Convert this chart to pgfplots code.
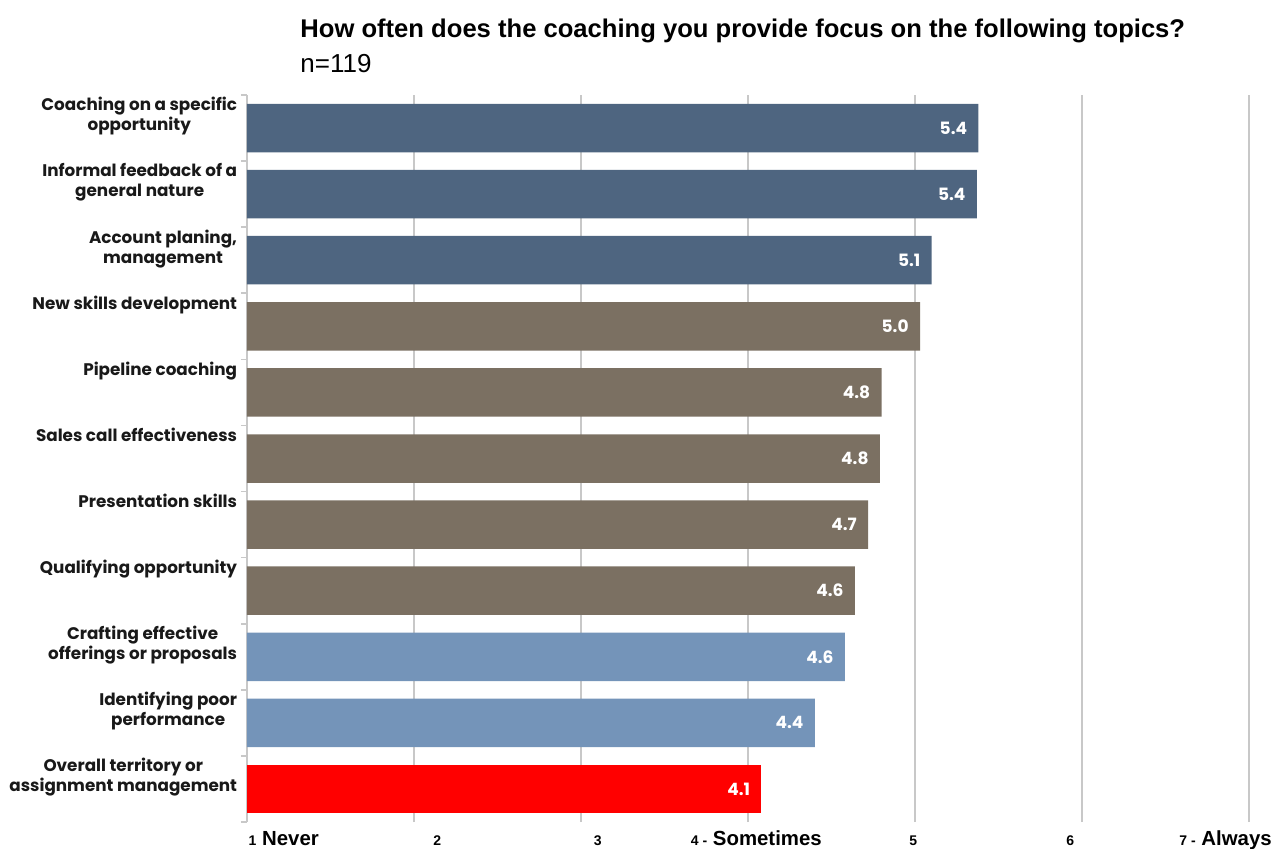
\documentclass[border=0pt]{standalone}
\usepackage{pgfplots}
\pgfplotsset{compat=1.18}
\usepackage{fontspec}
\setmainfont{Liberation Sans}
\newfontfamily\labfont{Poppins}
\definecolor{darkbar}{RGB}{78,101,128}
\definecolor{taupe}{RGB}{123,112,98}
\definecolor{lightbar}{RGB}{116,148,185}
\definecolor{redbar}{RGB}{255,0,0}
\definecolor{gridgray}{RGB}{200,200,200}
\begin{document}
\begin{tikzpicture}
\begin{axis}[
  xbar, bar shift=0pt, bar width=0.734,
  scale only axis, width=501pt, height=363.5pt,
  xmin=1, xmax=7, ymin=-0.5, ymax=10.5,
  /pgf/number format/assume math mode=true,
  axis lines*=left,
  x axis line style={draw=none},
  y axis line style={draw=gridgray, line width=1pt},
  xtick={2,...,7}, xticklabels={},
  xmajorgrids, grid style={gridgray, line width=1pt},
  major x tick style={draw=none},
  ytick={0,...,10},
  major y tick style={draw=none},
  minor ytick={-0.5,0.5,...,10.5},
  minor tick length=3pt,
  minor y tick style={draw=gridgray, line width=0.8pt},
  tick align=outside,
  yticklabels={{Overall territory or\\assignment management},
    {Identifying poor\\performance},
    {Crafting effective\\offerings or proposals},
    {Qualifying opportunity},
    {Presentation skills},
    {Sales call effectiveness},
    {Pipeline coaching},
    {New skills development},
    {Account planing,\\management},
    {Informal feedback of a\\general nature},
    {Coaching on a specific\\opportunity}},
  yticklabel style={anchor=north east, inner sep=0pt, align=center,
    xshift=-0.5pt, yshift=15.5pt,
    font=\labfont\bfseries\fontsize{8.4}{10}\selectfont, text=black!90},
  extra x ticks={1.22,2.14,3.10,4.05,4.99,5.93,6.86},
  extra x tick labels={
    {{\fontsize{7}{6}\selectfont 1} Never},
    {\fontsize{7}{6}\selectfont 2},
    {\fontsize{7}{6}\selectfont 3},
    {{\fontsize{7}{6}\selectfont 4 -} Sometimes},
    {\fontsize{7}{6}\selectfont 5},
    {\fontsize{7}{6}\selectfont 6},
    {{\fontsize{7}{6}\selectfont 7 -} Always}},
  extra x tick style={grid=none, major tick length=0pt,
    xticklabel style={anchor=base, inner sep=0pt, yshift=-11.5pt,
      font=\bfseries\fontsize{10.2}{10}\selectfont}},
  nodes near coords={\pgfmathprintnumber[fixed,fixed zerofill,precision=1]{\pgfplotspointmeta}},
  nodes near coords style={anchor=east, inner sep=0pt, xshift=-5.5pt,
    text=white, font=\labfont\bfseries\fontsize{8.5}{8}\selectfont},
  clip=false,
]
\addplot[fill=darkbar, draw=none] coordinates {(5.38,10) (5.37,9) (5.10,8)};
\addplot[fill=taupe, draw=none] coordinates {(5.03,7) (4.80,6) (4.79,5) (4.72,4) (4.64,3)};
\addplot[fill=lightbar, draw=none] coordinates {(4.58,2) (4.40,1)};
\addplot[fill=redbar, draw=none] coordinates {(4.08,0)};
\end{axis}
\node[anchor=base west, inner sep=0pt, font=\bfseries\fontsize{12.8}{14}\selectfont]
  at ([shift={(26.5pt,392pt)}]current axis.south west)
  {How often does the coaching you provide focus on the following topics?};
\node[anchor=base west, inner sep=0pt, font=\fontsize{13}{14}\selectfont]
  at ([shift={(26.5pt,374.5pt)}]current axis.south west) {n=119};
\pgfresetboundingbox
\path[use as bounding box] ([shift={(-123.5pt,-13pt)}]current axis.south west)
  rectangle ([shift={(520.5pt,411pt)}]current axis.south west);
\end{tikzpicture}
\end{document}
